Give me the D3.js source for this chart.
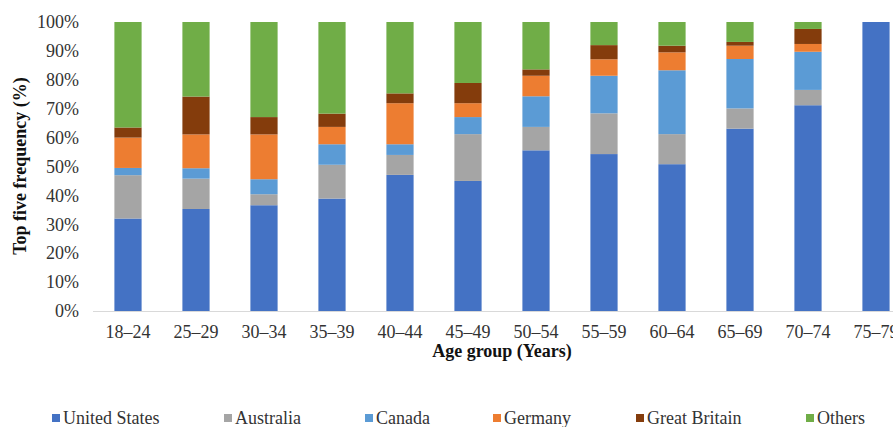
<!DOCTYPE html>
<html>
<head>
<meta charset="utf-8">
<script src="https://cdn.jsdelivr.net/npm/d3@7/dist/d3.min.js"></script>
<style>
  html, body { margin: 0; padding: 0; background: #fff; overflow: hidden; }
  svg, svg text { font-family: "Liberation Serif", "Times New Roman", Times, "DejaVu Serif", serif; }
</style>
</head>
<body>
<svg id="chart" width="893" height="427"></svg>
<script>
// Age groups (x categories)
const ageGroups = ["18–24", "25–29", "30–34", "35–39", "40–44", "45–49",
                   "50–54", "55–59", "60–64", "65–69", "70–74", "75–79"];

// Share of each country within an age group (%)
const unitedStates = [32.0, 35.3, 36.6, 38.9, 47.1, 45.0, 55.6, 54.3, 50.8, 63.1, 71.2, 100];
const australia    = [15.0, 10.5,  3.8, 11.7,  6.9, 16.2,  8.1, 14.1, 10.4,  7.0,  5.3, 0];
const canada       = [ 2.5,  3.6,  5.2,  7.1,  3.7,  5.9, 10.6, 13.0, 22.1, 17.1, 13.2, 0];
const germany      = [10.5, 11.7, 15.5,  6.0, 14.2,  4.8,  7.1,  5.7,  6.2,  4.6,  2.7, 0];
const greatBritain = [ 3.5, 13.1,  6.0,  4.6,  3.4,  7.0,  2.2,  4.9,  2.3,  1.3,  5.2, 0];
const others       = [36.5, 25.8, 32.9, 31.7, 24.7, 21.1, 16.4,  8.0,  8.2,  6.9,  2.4, 0];

const seriesNames  = ["United States", "Australia", "Canada", "Germany", "Great Britain", "Others"];
const seriesColors = ["#4472C4", "#A5A5A5", "#5B9BD5", "#ED7D31", "#843C0C", "#70AD47"];

const yTicks = [0, 10, 20, 30, 40, 50, 60, 70, 80, 90, 100];

const FONT = "'Liberation Serif', 'Times New Roman', Times, 'DejaVu Serif', serif";

// Build rows for d3.stack
const seriesValues = [unitedStates, australia, canada, germany, greatBritain, others];
const rows = ageGroups.map((g, i) => {
  const row = { group: g };
  seriesNames.forEach((s, k) => { row[s] = seriesValues[k][i]; });
  return row;
});
const stacked = d3.stack().keys(seriesNames)(rows);

const svg = d3.select("#chart");

const x = d3.scaleBand()
  .domain(ageGroups)
  .range([94, 910])
  .paddingInner(0.6)
  .paddingOuter(0.3);

const y = d3.scaleLinear()
  .domain([0, 100])
  .range([311, 22]);

const color = d3.scaleOrdinal().domain(seriesNames).range(seriesColors);

// Stacked bars
svg.append("g")
  .selectAll("g")
  .data(stacked)
  .join("g")
    .attr("fill", d => color(d.key))
  .selectAll("rect")
  .data(d => d)
  .join("rect")
    .attr("x", d => x(d.data.group))
    .attr("width", x.bandwidth())
    .attr("y", d => y(d[1]))
    .attr("height", d => Math.max(0, y(d[0]) - y(d[1])));

// Baseline
svg.append("line")
  .attr("x1", 93).attr("x2", 910)
  .attr("y1", y(0) + 0.5).attr("y2", y(0) + 0.5)
  .attr("stroke", "#d9d9d9")
  .attr("stroke-width", 1);

// Y axis labels
const yAxis = svg.append("g")
  .attr("transform", "translate(79,0)")
  .call(d3.axisLeft(y).tickValues(yTicks).tickFormat(d => d + "%").tickSize(0).tickPadding(0));
yAxis.attr("font-family", FONT).attr("font-size", 18);
yAxis.select(".domain").remove();
yAxis.selectAll("text").attr("fill", "#333");

// X axis labels
const xAxis = svg.append("g")
  .attr("transform", `translate(0,${y(0)})`)
  .call(d3.axisBottom(x).tickSize(0).tickPadding(14));
xAxis.attr("font-family", FONT).attr("font-size", 18);
xAxis.select(".domain").remove();
xAxis.selectAll("text").attr("fill", "#333");

// Axis titles
svg.append("text")
  .attr("x", 502).attr("y", 357)
  .attr("text-anchor", "middle")
  .attr("font-family", FONT)
  .attr("font-size", 18)
  .attr("font-weight", "bold")
  .attr("fill", "#111")
  .text("Age group (Years)");

svg.append("text")
  .attr("transform", "translate(26,166) rotate(-90)")
  .attr("text-anchor", "middle")
  .attr("font-family", FONT)
  .attr("font-size", 18)
  .attr("font-weight", "bold")
  .attr("fill", "#111")
  .text("Top five frequency (%)");

// Legend
const legendX = [52, 224, 365, 493, 636, 806];
const legend = svg.append("g")
  .attr("font-family", FONT)
  .selectAll("g")
  .data(seriesNames)
  .join("g")
    .attr("transform", (d, i) => `translate(${legendX[i]},418)`);
legend.append("rect")
  .attr("x", 0).attr("y", -4)
  .attr("width", 8).attr("height", 8)
  .attr("fill", d => color(d));
legend.append("text")
  .attr("x", 11).attr("y", 0)
  .attr("dy", "0.34em")
  .attr("font-size", 18)
  .attr("fill", "#333")
  .text(d => d);
</script>
</body>
</html>
